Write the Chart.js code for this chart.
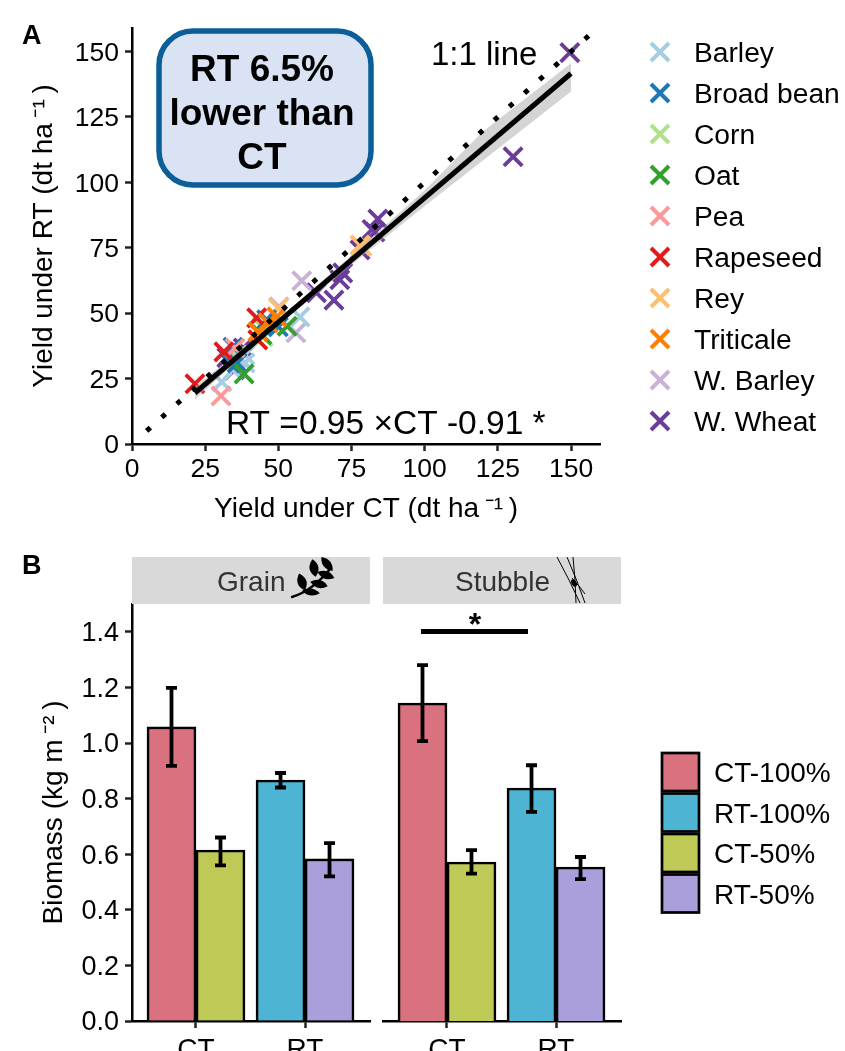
<!DOCTYPE html>
<html><head><meta charset="utf-8">
<script src="https://cdn.jsdelivr.net/npm/chart.js@4"></script>
<style>html,body{margin:0;padding:0;background:#fff;overflow:hidden;width:845px;height:1051px}canvas{position:absolute;display:block}</style>
</head><body>
<canvas id="a" width="845" height="540" style="left:0;top:0"></canvas>
<canvas id="g" width="376" height="511" style="left:0;top:540px"></canvas>
<canvas id="s" width="469" height="511" style="left:376px;top:540px"></canvas>
<script>
// ---------- Panel A data: [yield under CT, yield under RT]
const cropNames=['Barley','Broad bean','Corn','Oat','Pea','Rapeseed','Rey','Triticale','W. Barley','W. Wheat'];
const cropColors=['#A6CEE3','#1F78B4','#B2DF8A','#33A02C','#FB9A99','#E31A1C','#FDBF6F','#FF7F00','#CAB2D6','#6A3D9A'];
const cropLayer=[9,8,10,5,7,4,11,3,12,13];
const barley=[[30.7,23.7],[34.5,28.3],[38.6,31],[38.6,34],[57.4,48.6]];
const broadBean=[[33.5,31],[35.9,31],[34.5,37],[46,47.5],[50,44.8]];
const corn=[[36,34],[44.4,44.8],[44.8,41]];
const oat=[[38.3,26.8],[44.4,41.7],[53,45]];
const pea=[[30.4,18.4],[35.2,36.7]];
const rapeseed=[[21.5,23],[31.4,35.2],[42.6,48.2],[43,39.8]];
const rey=[[50,52],[77.9,76],[78.5,75.5]];
const triticale=[[43,42.9],[46.5,46.3],[49.5,48.6]];
const wBarley=[[50.2,52.4],[56,42.5],[58,62.4],[36,33]];
const wWheat=[[32.4,33],[35,28.3],[38,36.7],[63,57.8],[69,55],[71,62.8],[72,65.4],[77.9,74.2],[82,82],[83,81],[84,86],[130.2,109.8],[149.6,149.6]];
const cropPoints=[barley,broadBean,corn,oat,pea,rapeseed,rey,triticale,wBarley,wWheat];
const oneToOne=[[5,5],[157,157]];
const fitLine=[[21.5,19.5],[150,141.6]];
const ribbonLower=[[21.5,17],[45,41],[80,73],[100,91],[120,108.5],[150,134.7]];
const ribbonUpper=[[21.5,22],[45,42.6],[80,77],[100,97],[120,119.5],[150,145.5]];
const tickStepA=25;
// ---------- Panel B data
const groups=['CT','RT'];
const seriesNames=['CT-100%','RT-100%','CT-50%','RT-50%'];
const seriesColors=['#DA717E','#4DB5D3','#BFCA56','#AA9EDB'];
const grainMeans=[[1.058,null],[null,0.867],[0.615,null],[null,0.583]];
const grainLow=[[0.918,null],[null,0.84],[0.56,null],[null,0.52]];
const grainHigh=[[1.198,null],[null,0.892],[0.66,null],[null,0.64]];
const stubbleMeans=[[1.144,null],[null,0.838],[0.572,null],[null,0.554]];
const stubbleLow=[[1.007,null],[null,0.752],[0.53,null],[null,0.51]];
const stubbleHigh=[[1.28,null],[null,0.92],[0.615,null],[null,0.59]];

const FF='"Liberation Sans",Arial,sans-serif';
const toXY=a=>a.map(p=>({x:p[0],y:p[1]}));
function txt(c,s,x,y,font,color,align){c.save();c.font=font;c.fillStyle=color||'#000';c.textAlign=align||'left';c.textBaseline='alphabetic';c.fillText(s,x,y);c.restore();}

// ---------- Panel A
const panelADecor={id:'panelADecor',afterDraw(ch){const c=ch.ctx;
  txt(c,'A',22,44,'bold 27px '+FF);
  c.save();c.beginPath();c.roundRect(159,31,212,154,34);c.fillStyle='#D9E3F3';c.fill();c.lineWidth=5.5;c.strokeStyle='#0B5E99';c.stroke();c.restore();
  ['RT 6.5%','lower than','CT'].forEach((s,i)=>txt(c,s,262,81+i*44,'bold 37px '+FF,'#000','center'));
  txt(c,'1:1 line',431,65,'33px '+FF);
  txt(c,'RT =0.95 ×CT -0.91 *',226,434,'33.5px '+FF);
  cropNames.forEach((n,i)=>{const y=52+i*41,x=660;c.save();c.strokeStyle=cropColors[i];c.lineWidth=4;c.beginPath();c.moveTo(x-9,y-9);c.lineTo(x+9,y+9);c.moveTo(x-9,y+9);c.lineTo(x+9,y-9);c.stroke();c.restore();
    txt(c,n,694,y+10,'28.2px '+FF);});
}};
new Chart(document.getElementById('a'),{type:'scatter',plugins:[panelADecor],
 data:{datasets:[
  {label:'1:1',data:toXY(oneToOne),showLine:true,pointRadius:0,borderColor:'#000',borderWidth:5,borderDash:[5,15.27],order:1,clip:false},
  {label:'fit',data:toXY(fitLine),showLine:true,pointRadius:0,borderColor:'#000',borderWidth:5,order:0},
  {label:'lower',data:toXY(ribbonLower),showLine:true,pointRadius:0,borderWidth:0,order:2},
  {label:'upper',data:toXY(ribbonUpper),showLine:true,pointRadius:0,borderWidth:0,fill:'-1',backgroundColor:'rgba(170,170,170,0.5)',order:2},
  ...cropNames.map((n,i)=>({label:n,data:toXY(cropPoints[i]),pointStyle:'crossRot',pointRadius:13,pointBorderWidth:3.8,pointBorderColor:cropColors[i],borderColor:cropColors[i],showLine:false,order:cropLayer[i],clip:false}))
 ]},
 options:{responsive:false,animation:false,layout:{padding:{left:0,top:28,right:245,bottom:0}},
  plugins:{legend:{display:false},tooltip:{enabled:false}},
  scales:{
   x:{type:'linear',min:0,max:159.9,title:{display:true,text:'Yield under CT (dt ha\u2009⁻¹\u2009)',font:{size:28,family:FF},color:'#000',padding:{bottom:14}},
      afterFit:s=>{s.height=96},grid:{drawOnChartArea:false,tickLength:7,tickWidth:2.5,tickColor:'#222'},border:{color:'#000',width:2.5},
      ticks:{stepSize:tickStepA,includeBounds:false,maxRotation:0,autoSkip:false,font:{size:26.5,family:FF},color:'#000',padding:3}},
   y:{type:'linear',min:0,max:159,title:{display:true,text:'Yield under RT (dt ha\u2009⁻¹\u2009)',font:{size:28,family:FF},color:'#000',padding:{top:27}},
      afterFit:s=>{s.width=132},grid:{drawOnChartArea:false,tickLength:7,tickWidth:2.5,tickColor:'#222'},border:{color:'#000',width:2.5},
      ticks:{stepSize:tickStepA,includeBounds:false,autoSkip:false,labelOffset:2,font:{size:26.5,family:FF},color:'#000',padding:6}}
  }}});

// ---------- Panel B helpers
function errorBars(low,high){return{id:'err',afterDatasetsDraw(ch){const c=ch.ctx,yS=ch.scales.y;c.save();c.strokeStyle='#000';c.lineWidth=3.8;
  low.forEach((arr,d)=>{const meta=ch.getDatasetMeta(d);arr.forEach((v,i)=>{if(v===null)return;const x=meta.data[i].x,a=yS.getPixelForValue(v),b=yS.getPixelForValue(high[d][i]);
    c.beginPath();c.moveTo(x,a);c.lineTo(x,b);c.moveTo(x-5.5,a);c.lineTo(x+5.5,a);c.moveTo(x-5.5,b);c.lineTo(x+5.5,b);c.stroke();});});c.restore();}};}
function barChart(id,means,low,high,left,right,showY,extra){
 return new Chart(document.getElementById(id),{type:'bar',plugins:[errorBars(low,high),extra],
  data:{datasets:seriesNames.map((n,d)=>({label:n,data:means[d].map((v,i)=>({x:i,y:v})),backgroundColor:seriesColors[d],borderColor:'#000',borderWidth:2.6,barThickness:49,skipNull:true}))},
  options:{responsive:false,animation:false,layout:{padding:{left:left,top:64,right:right,bottom:0}},
   plugins:{legend:{display:false},tooltip:{enabled:false}},
   scales:{
    x:{type:'linear',offset:false,min:-0.587,max:1.596,afterBuildTicks:s=>{s.ticks=groups.map((g,i)=>({value:i}))},afterFit:s=>{s.height=30},
       grid:{offset:false,drawOnChartArea:false,tickLength:7,tickWidth:2.5,tickColor:'#222'},border:{color:'#000',width:2.5},
       ticks:{callback:v=>groups[v],autoSkip:false,maxRotation:0,font:{size:28,family:FF},color:'#000',padding:5}},
    y:{type:'linear',display:showY,min:0,max:1.5,title:{display:showY,text:'Biomass (kg m\u2009⁻²\u2009)',font:{size:28,family:FF},color:'#000',padding:{top:37}},
       afterFit:s=>{if(showY)s.width=132},grid:{drawOnChartArea:false,tickLength:7,tickWidth:2.5,tickColor:'#222'},border:{color:'#000',width:2.5},
       ticks:{stepSize:0.2,includeBounds:false,autoSkip:false,labelOffset:2,callback:v=>v.toFixed(1),font:{size:27,family:FF},color:'#000',padding:6}}
   }}});
}
function strip(c,l,r,label,tx){c.save();c.fillStyle='#D9D9D9';c.fillRect(l,17,r-l,47);c.restore();txt(c,label,tx,51,'28px '+FF,'#333','left');}
function leaf(c,x,y,ang,len,w){c.save();c.translate(x,y);c.rotate(ang);c.beginPath();c.moveTo(-len,0);c.quadraticCurveTo(0,-w,len,0);c.quadraticCurveTo(0,w,-len,0);c.fill();c.restore();}
const grainDecor={id:'grainDecor',afterDraw(ch){const c=ch.ctx;
  txt(c,'B',22,34,'bold 27px '+FF);
  strip(c,132,370,'Grain',217);
  c.save();c.translate(0,-540);c.fillStyle='#000';c.strokeStyle='#000';c.lineWidth=2.4;c.lineCap='round';
  c.beginPath();c.moveTo(292,597);c.quadraticCurveTo(312,591,330,569);c.stroke();
  [[302,582,-1.9,9,9],[314,568,-1.75,9,9],[327,564,-2.25,9,8],[326,575,-2.8,9,8],[319,584,-2.9,9,8],[311,592,-3.0,9,7]].forEach(l=>leaf(c,l[0],l[1],l[2],l[3],l[4]));
  c.restore();
}};
const stubbleDecor={id:'stubbleDecor',afterDraw(ch){const c=ch.ctx;
  strip(c,7,245,'Stubble',79);
  c.save();c.translate(-376,-540);c.strokeStyle='#000';c.lineWidth=1;
  [[557,557,580,603],[567,557,585,603],[573,557,576,603],[585,594,572,578]].forEach(l=>{c.beginPath();c.moveTo(l[0],l[1]);c.quadraticCurveTo((l[0]+l[2])/2+1,(l[1]+l[3])/2,l[2],l[3]);c.stroke();});
  c.fillStyle='#000';c.beginPath();c.ellipse(574,583,2.5,4,-0.5,0,Math.PI*2);c.fill();
  c.fillStyle='#000';c.fillRect(421,629,107,5);
  txt(c,'*',475,635,'bold 32px '+FF,'#000','center');
  seriesNames.forEach((n,i)=>{const y=753+i*40.5;c.fillStyle=seriesColors[i];c.fillRect(662,y,37,38);c.strokeStyle='#000';c.lineWidth=2.7;c.strokeRect(662,y,37,38);
    txt(c,n,714,y+29,'28px '+FF);});
  c.restore();
}};
barChart('g',grainMeans,grainLow,grainHigh,0,6,true,grainDecor);
barChart('s',stubbleMeans,stubbleLow,stubbleHigh,7,224,false,stubbleDecor);
</script>
</body></html>
